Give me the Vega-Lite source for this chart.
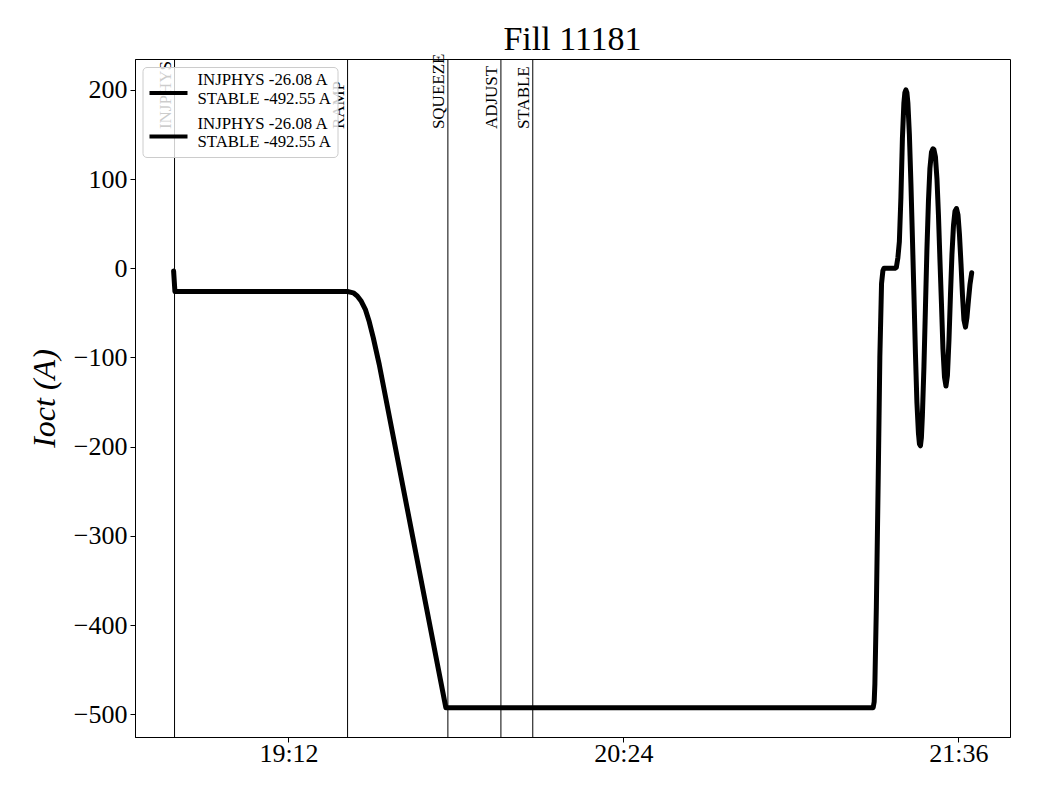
{
  "$schema": "https://vega.github.io/schema/vega-lite/v6.json",
  "autosize": {"type": "none"},
  "width": 875,
  "height": 678,
  "padding": {"left": 135, "top": 59, "right": 30, "bottom": 63},
  "background": "white",
  "title": {"text": "Fill 11181", "font": "Liberation Serif", "fontSize": 34, "fontWeight": "normal", "color": "black", "offset": -3, "anchor": "middle"},
  "config": {
    "view": {"stroke": "black", "strokeWidth": 1},
    "axis": {"domainColor": "black", "tickColor": "black", "tickSize": 5, "grid": false, "labelFont": "Liberation Serif", "labelFontSize": 26, "labelColor": "black", "titleFont": "Liberation Serif", "titleColor": "black", "labelPadding": 3}
  },
  "datasets": {
    "events": [
      {"name": "INJPHYS", "time": "2025-09-01T18:47:30"},
      {"name": "RAMP", "time": "2025-09-01T19:24:42"},
      {"name": "SQUEEZE", "time": "2025-09-01T19:46:16"},
      {"name": "ADJUST", "time": "2025-09-01T19:57:40"},
      {"name": "STABLE", "time": "2025-09-01T20:04:31"}
    ],
    "current": [
      {"time": "2025-09-01T18:47:18", "I": -3, "series": "s1"},
      {"time": "2025-09-01T18:47:35", "I": -26.08, "series": "s1"},
      {"time": "2025-09-01T19:24:41", "I": -26.08, "series": "s1"},
      {"time": "2025-09-01T19:25:56", "I": -27.5, "series": "s1"},
      {"time": "2025-09-01T19:26:47", "I": -31, "series": "s1"},
      {"time": "2025-09-01T19:27:39", "I": -37, "series": "s1"},
      {"time": "2025-09-01T19:28:31", "I": -46, "series": "s1"},
      {"time": "2025-09-01T19:29:22", "I": -60, "series": "s1"},
      {"time": "2025-09-01T19:30:14", "I": -78, "series": "s1"},
      {"time": "2025-09-01T19:31:31", "I": -108, "series": "s1"},
      {"time": "2025-09-01T19:38:40", "I": -300, "series": "s1"},
      {"time": "2025-09-01T19:45:50", "I": -492.55, "series": "s1"},
      {"time": "2025-09-01T21:17:42", "I": -492.55, "series": "s1"},
      {"time": "2025-09-01T21:17:55", "I": -486, "series": "s1"},
      {"time": "2025-09-01T21:18:04", "I": -466, "series": "s1"},
      {"time": "2025-09-01T21:18:23", "I": -380, "series": "s1"},
      {"time": "2025-09-01T21:18:46", "I": -242, "series": "s1"},
      {"time": "2025-09-01T21:19:08", "I": -100, "series": "s1"},
      {"time": "2025-09-01T21:19:30", "I": -17, "series": "s1"},
      {"time": "2025-09-01T21:19:47", "I": -3, "series": "s1"},
      {"time": "2025-09-01T21:20:00", "I": 0, "series": "s1"},
      {"time": "2025-09-01T21:22:22", "I": 0, "series": "s1"},
      {"time": "2025-09-01T21:22:41", "I": 1, "series": "s1"},
      {"time": "2025-09-01T21:23:01", "I": 12, "series": "s1"},
      {"time": "2025-09-01T21:23:20", "I": 30, "series": "s1"},
      {"time": "2025-09-01T21:23:40", "I": 80, "series": "s1"},
      {"time": "2025-09-01T21:23:59", "I": 145, "series": "s1"},
      {"time": "2025-09-01T21:24:18", "I": 185, "series": "s1"},
      {"time": "2025-09-01T21:24:31", "I": 197, "series": "s1"},
      {"time": "2025-09-01T21:24:44", "I": 200, "series": "s1"},
      {"time": "2025-09-01T21:24:57", "I": 197, "series": "s1"},
      {"time": "2025-09-01T21:25:10", "I": 185, "series": "s1"},
      {"time": "2025-09-01T21:25:29", "I": 150, "series": "s1"},
      {"time": "2025-09-01T21:25:49", "I": 95, "series": "s1"},
      {"time": "2025-09-01T21:26:08", "I": 35, "series": "s1"},
      {"time": "2025-09-01T21:26:28", "I": -30, "series": "s1"},
      {"time": "2025-09-01T21:26:47", "I": -95, "series": "s1"},
      {"time": "2025-09-01T21:27:06", "I": -150, "series": "s1"},
      {"time": "2025-09-01T21:27:26", "I": -185, "series": "s1"},
      {"time": "2025-09-01T21:27:39", "I": -197, "series": "s1"},
      {"time": "2025-09-01T21:27:52", "I": -199, "series": "s1"},
      {"time": "2025-09-01T21:28:04", "I": -190, "series": "s1"},
      {"time": "2025-09-01T21:28:17", "I": -165, "series": "s1"},
      {"time": "2025-09-01T21:28:37", "I": -110, "series": "s1"},
      {"time": "2025-09-01T21:28:56", "I": -45, "series": "s1"},
      {"time": "2025-09-01T21:29:15", "I": 20, "series": "s1"},
      {"time": "2025-09-01T21:29:35", "I": 75, "series": "s1"},
      {"time": "2025-09-01T21:29:54", "I": 112, "series": "s1"},
      {"time": "2025-09-01T21:30:14", "I": 130, "series": "s1"},
      {"time": "2025-09-01T21:30:33", "I": 134, "series": "s1"},
      {"time": "2025-09-01T21:30:46", "I": 133, "series": "s1"},
      {"time": "2025-09-01T21:31:05", "I": 125, "series": "s1"},
      {"time": "2025-09-01T21:31:25", "I": 100, "series": "s1"},
      {"time": "2025-09-01T21:31:44", "I": 60, "series": "s1"},
      {"time": "2025-09-01T21:32:03", "I": 10, "series": "s1"},
      {"time": "2025-09-01T21:32:23", "I": -40, "series": "s1"},
      {"time": "2025-09-01T21:32:42", "I": -90, "series": "s1"},
      {"time": "2025-09-01T21:33:02", "I": -122, "series": "s1"},
      {"time": "2025-09-01T21:33:21", "I": -132, "series": "s1"},
      {"time": "2025-09-01T21:33:40", "I": -120, "series": "s1"},
      {"time": "2025-09-01T21:34:00", "I": -80, "series": "s1"},
      {"time": "2025-09-01T21:34:19", "I": -30, "series": "s1"},
      {"time": "2025-09-01T21:34:38", "I": 15, "series": "s1"},
      {"time": "2025-09-01T21:34:58", "I": 48, "series": "s1"},
      {"time": "2025-09-01T21:35:17", "I": 64, "series": "s1"},
      {"time": "2025-09-01T21:35:37", "I": 67, "series": "s1"},
      {"time": "2025-09-01T21:35:56", "I": 60, "series": "s1"},
      {"time": "2025-09-01T21:36:15", "I": 38, "series": "s1"},
      {"time": "2025-09-01T21:36:35", "I": 5, "series": "s1"},
      {"time": "2025-09-01T21:36:54", "I": -30, "series": "s1"},
      {"time": "2025-09-01T21:37:13", "I": -58, "series": "s1"},
      {"time": "2025-09-01T21:37:33", "I": -66, "series": "s1"},
      {"time": "2025-09-01T21:37:52", "I": -55, "series": "s1"},
      {"time": "2025-09-01T21:38:12", "I": -35, "series": "s1"},
      {"time": "2025-09-01T21:38:31", "I": -18, "series": "s1"},
      {"time": "2025-09-01T21:38:53", "I": -5, "series": "s1"}
    ]
  },
  "encoding": {
    "x": {
      "field": "time", "type": "temporal",
      "scale": {"domain": [{"year": 2025, "month": 9, "date": 1, "hours": 18, "minutes": 39, "seconds": 0}, {"year": 2025, "month": 9, "date": 1, "hours": 21, "minutes": 47, "seconds": 7}]},
      "axis": {"title": null, "format": "%H:%M", "labelFlush": false, "labelPadding": -2, "values": [
        {"year": 2025, "month": 9, "date": 1, "hours": 19, "minutes": 12},
        {"year": 2025, "month": 9, "date": 1, "hours": 20, "minutes": 24},
        {"year": 2025, "month": 9, "date": 1, "hours": 21, "minutes": 36}
      ]}
    }
  },
  "layer": [
    {
      "data": {"name": "events"},
      "mark": {"type": "rule", "color": "black", "strokeWidth": 1},
      "encoding": {}
    },
    {
      "data": {"name": "events"},
      "mark": {"type": "text", "angle": 270, "align": "left", "baseline": "bottom", "font": "Liberation Serif", "fontSize": 17, "color": "black"},
      "encoding": {
        "y": {"datum": 156, "type": "quantitative"},
        "text": {"field": "name"}
      }
    },
    {
      "data": {"name": "current"},
      "mark": {"type": "line", "strokeWidth": 5, "interpolate": "linear", "strokeCap": "round", "strokeJoin": "round"},
      "encoding": {
        "y": {
          "field": "I", "type": "quantitative",
          "scale": {"domain": [-525.4, 234.6], "nice": false, "zero": false},
          "axis": {"title": "Ioct (A)", "titleFontSize": 32, "titleFontStyle": "italic", "titleFontWeight": "normal", "titlePadding": 12, "values": [-500, -400, -300, -200, -100, 0, 100, 200], "labelExpr": "replace(format(datum.value, 'd'), '-', '−')"}
        },
        "color": {
          "field": "series", "type": "nominal",
          "scale": {"domain": ["s1", "s2"], "range": ["black", "black"]},
          "legend": {
            "title": null, "orient": "none", "legendX": 7.5, "legendY": 8,
            "labelExpr": "['INJPHYS -26.08 A', 'STABLE -492.55 A']",
            "labelFont": "Liberation Serif", "labelFontSize": 16.8, "labelColor": "black", "labelBaseline": "bottom",
            "symbolType": "stroke", "symbolSize": 1444, "symbolStrokeWidth": 4, "symbolStrokeColor": "black",
            "labelOffset": 8, "rowPadding": 7.5, "padding": 5,
            "strokeColor": "#cccccc", "fillColor": "rgba(255,255,255,0.8)", "cornerRadius": 4,
            "encode": {"labels": {"update": {"dy": {"value": -4}}}}
          }
        }
      }
    }
  ]
}
